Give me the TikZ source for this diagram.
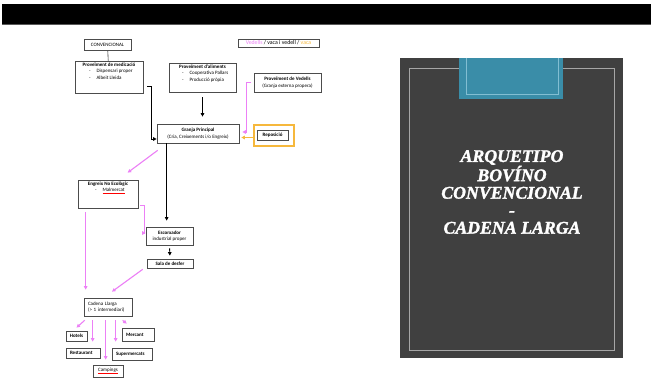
\documentclass[tikz,border=0pt]{standalone}
\usepackage{fontspec}
\setmainfont{Carlito}
\newfontfamily\titolfont[BoldItalicFeatures={FakeBold=1.6}]{Liberation Serif}
\usetikzlibrary{arrows.meta,calc}
\definecolor{rosa}{RGB}{236,128,246}
\definecolor{taronja}{RGB}{246,184,60}
\definecolor{pissarra}{RGB}{64,64,64}
\definecolor{blaupestanya}{RGB}{58,141,168}
\definecolor{blauclar}{RGB}{130,190,210}
\newcommand{\guio}[1]{\par\hspace*{#1pt}-\hspace{6pt}}
\newcommand{\caixatxt}[3]{\parbox[c][#2pt][t]{#1pt}{\vspace*{1.5pt}#3}}
\newcommand{\malm}[1]{{\color{red}\underline{\color{black}#1}}}

\begin{document}
\begin{tikzpicture}[x=1pt,y=-1pt,
      caixa/.style={draw=black!70, line width=0.7pt, inner sep=0pt,
                    font=\fontsize{5}{6.5}\selectfont, align=center},
      esq/.style={caixa, align=left, inner xsep=4pt},
      neg/.style={-{Triangle[length=3.5pt,width=3.5pt]}, line width=0.9pt, black},
      fl/.style={-{Triangle[length=3.5pt,width=3.5pt]}, line width=1.1pt, rosa}
  ]
    \useasboundingbox (0,0) rectangle (651,390);
    \fill[white] (0,0) rectangle (651,390);
    \fill[black] (2,4) rectangle (651,24);
    \draw[black!65, line width=1pt] (2,24.5) -- (651,24.5);

    % portada
    \fill[pissarra] (400,58) rectangle (623,358);
    \draw[black!35, line width=0.5pt] (409,68) rectangle (614,350);
    \fill[blaupestanya] (459,58) rectangle (563,99);
    \draw[blauclar, line width=0.6pt] (466,58) -- (466,94) -- (558,94) -- (558,58);
    \node[text=white, font=\titolfont\bfseries\itshape\fontsize{17.8}{17.5}\selectfont,
          align=center] (titol) at (512,192)
          {ARQUETIPO\\BOVÍNO\\CONVENCIONAL\\-\\CADENA LARGA};

    % diagrama
    \node[caixa, minimum width=47pt, minimum height=11pt] (conv) at (107.5,45) {CONVENCIONAL};
    \node[caixa] (medic) at (109,77) {\caixatxt{68}{32}{{\centering\bfseries Proveïment de medicació\par}%
        \guio{14}Dispensari proper\guio{14}Albeit Lleida}};
    \node[caixa] (alim) at (202.5,77.5) {\caixatxt{67}{29}{{\centering\bfseries Proveïment d'aliments\par}%
        \guio{13}Cooperativa Pallars\guio{13}Producció pròpia}};
    \node[caixa, minimum width=81pt, minimum height=8pt, font=\fontsize{5.8}{7}\selectfont] (llegenda)
        at (278.5,43) {\textcolor{rosa}{Vedells} / vaca i vedell / \textcolor{taronja}{vaca}};
    \node[caixa, minimum width=67pt, minimum height=19pt] (provved) at (287.5,82.5)
        {\textbf{Proveïment de Vedells}\\(Granja externa propera)};
    \node[caixa, minimum width=82pt, minimum height=19pt] (granja) at (198,133.5)
        {\textbf{Granja Principal}\\(Cria, Creixements i/o Engreix)};
    \node[draw=taronja, line width=1.2pt, minimum width=40pt, minimum height=21pt,
          inner sep=0pt] (repomarc) at (274,135.5) {};
    \node[caixa, minimum width=31pt, minimum height=10pt] (repo) at (272.5,135) {\textbf{Reposició}};
    \node[caixa] (engreix) at (108,194) {\caixatxt{60}{28}{{\centering\bfseries Engreix No Ecològic\par}%
        \guio{17}\malm{Malmercat}}};
    \node[caixa, minimum width=47pt, minimum height=18pt] (escorx) at (169.5,236)
        {\textbf{Escorxador}\\industrial proper};
    \node[caixa, minimum width=46pt, minimum height=9pt] (sala) at (170,263.5) {\textbf{Sala de desfer}};
    \node[esq, text width=40pt, minimum height=18pt] (cadena) at (108,307)
        {Cadena Llarga\\(> 1 intermediari)};
    \node[caixa, minimum width=21pt, minimum height=10pt] (hotels) at (76.5,336) {\textbf{Hotels}};
    \node[esq, text width=26pt, minimum height=10pt] (rest) at (83,353) {\textbf{Restaurant}};
    \node[caixa, minimum width=30pt, minimum height=12pt] (camp) at (108,371) {\malm{Campings}};
    \node[esq, text width=32pt, minimum height=12pt] (super) at (132,354) {\textbf{Supermercats}};
    \node[esq, text width=24pt, minimum height=13pt] (merc) at (138,334.5) {\textbf{Mercant}};

    \draw[black!80, line width=0.6pt] (conv) -- (medic);
    \draw[neg] ([xshift=4pt,yshift=7pt]medic.south east) -- ++(4,0) |- ([yshift=-5.5pt]granja.west);
    \draw[neg, shorten <=5pt, shorten >=7pt] (alim.south) -- (alim.south |- granja.north);
    \draw[fl, shorten >=3pt] ([xshift=-3pt]provved.west) -- ++(-4,0) |- ([yshift=1.5pt]granja.east);
    \draw[fl, taronja, shorten >=2pt] ([yshift=-2pt]repomarc.west) -- ([yshift=-2pt]repomarc.west -| granja.east);
    \draw[fl] ([xshift=1pt,yshift=-7pt]granja.south west) -- ([xshift=50pt,yshift=7pt]engreix.north west);
    \coordinate (baixa) at ([xshift=10pt]granja.south west);
    \draw[neg, shorten >=6pt] (baixa) -- (baixa |- escorx.north);
    \draw[fl] ([xshift=2pt,yshift=3pt]engreix.south east) -- ++(4,0) |- ([yshift=3pt]escorx.west);
    \draw[neg, shorten <=3pt, shorten >=3pt] (escorx.south) -- (sala.north);
    \draw[fl] ([xshift=-4pt,yshift=-1pt]sala.south west) -- ([xshift=4pt,yshift=6pt]cadena.north);
    \draw[fl] ([xshift=8pt,yshift=-4pt]engreix.south west) -- ([xshift=2pt,yshift=8pt]cadena.north west);
    \draw[fl] ([xshift=1pt,yshift=-4pt]cadena.south west) -- ([yshift=3pt]hotels.north);
    \draw[fl] ([xshift=9pt,yshift=-4pt]cadena.south west) -- ([xshift=27pt,yshift=6pt]rest.north west);
    \draw[fl] ([xshift=22pt,yshift=-4pt]cadena.south west) -- ([xshift=13pt,yshift=5pt]camp.north west);
    \draw[fl] ([xshift=32pt,yshift=-4pt]cadena.south west) -- ([xshift=4pt,yshift=6pt]super.north west);
    \draw[fl] ([xshift=39pt,yshift=-4pt]cadena.south west) -- ([xshift=5pt,yshift=4pt]merc.north west);
  \end{tikzpicture}
\end{document}
